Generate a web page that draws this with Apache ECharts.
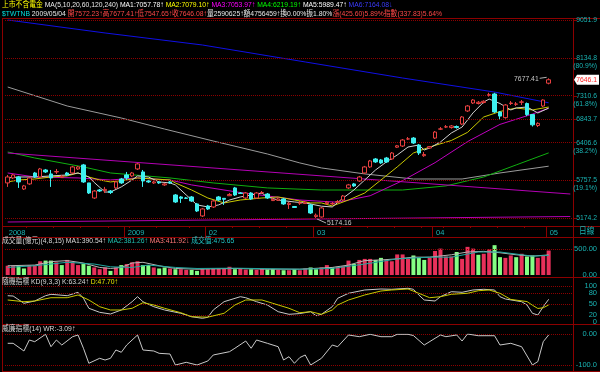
<!DOCTYPE html>
<html>
<head>
<meta charset="utf-8">
<script src="https://cdn.jsdelivr.net/npm/echarts@6/dist/echarts.min.js"></script>
<style>
html,body{margin:0;padding:0;background:#000;}
#chart{width:600px;height:372px;}
</style>
</head>
<body>
<div id="chart"></div>
<script>
// ---------- data ----------
const dates = [
'2008/12/02','2008/12/03','2008/12/04','2008/12/05','2008/12/08','2008/12/09','2008/12/10','2008/12/11','2008/12/12','2008/12/15',
'2008/12/16','2008/12/17','2008/12/18','2008/12/19','2008/12/22','2008/12/23','2008/12/24','2008/12/25','2008/12/26','2008/12/29',
'2008/12/30','2008/12/31','2009/01/02','2009/01/05','2009/01/06','2009/01/07','2009/01/08','2009/01/09','2009/01/12','2009/01/13',
'2009/01/14','2009/01/15','2009/01/16','2009/01/17','2009/01/19','2009/01/20','2009/01/21','2009/02/02','2009/02/03','2009/02/04',
'2009/02/05','2009/02/06','2009/02/09','2009/02/10','2009/02/11','2009/02/12','2009/02/13','2009/02/16','2009/02/17','2009/02/18',
'2009/02/19','2009/02/20','2009/02/23','2009/02/24','2009/02/25','2009/02/26','2009/02/27','2009/03/02','2009/03/03','2009/03/04',
'2009/03/05','2009/03/06','2009/03/09','2009/03/10','2009/03/11','2009/03/12','2009/03/13','2009/03/16','2009/03/17','2009/03/18',
'2009/03/19','2009/03/20','2009/03/23','2009/03/24','2009/03/25','2009/03/26','2009/03/27','2009/03/30','2009/03/31','2009/04/01',
'2009/04/02','2009/04/06','2009/04/07','2009/04/08','2009/04/09','2009/04/10','2009/04/13','2009/04/14','2009/04/15','2009/04/16',
'2009/04/17','2009/04/20','2009/04/21','2009/04/22','2009/04/23','2009/04/24','2009/04/27','2009/04/28','2009/04/29','2009/04/30',
'2009/05/04'];

const openP = [5713,5794,5810,5616,5697,5876,5810,5926,5860,5893,5800,5876,5876,5943,6011,5713,5475,5600,5590,5584,
5633,5777,5843,5827,5943,5893,5745,5713,5729,5681,5729,5522,5491,5475,5491,5384,5204,5353,5338,5491,
5470,5510,5633,5553,5475,5553,5475,5553,5537,5435,5440,5460,5375,5345,5395,5390,5369,5195,5189,5390,
5384,5410,5444,5633,5697,5745,5876,5977,6113,6096,6130,6113,6320,6341,6467,6485,6359,6170,6305,6485,
6650,6690,6680,6700,6747,7001,7160,7150,7170,7320,7345,6981,6870,7150,7135,7175,7150,6930,6720,7100,
7572.23];
const highP = [5843,5860,5827,5681,5810,5893,5960,5943,5926,5943,5843,5893,5994,5994,6028,5713,5600,5616,5649,5600,
5745,5794,5893,5893,6045,5926,5761,5745,5745,5713,5745,5537,5506,5491,5506,5399,5323,5369,5444,5506,
5475,5553,5649,5568,5568,5568,5568,5584,5553,5475,5475,5475,5414,5353,5429,5429,5384,5240,5338,5429,
5414,5444,5522,5697,5713,5827,5994,6096,6130,6113,6148,6235,6360,6467,6504,6504,6377,6235,6341,6615,
6690,6728,6728,6720,6902,7120,7240,7200,7215,7370,7370,7000,7140,7200,7180,7221,7170,6940,6780,7235,
7677.41];
const lowP = [5649,5777,5633,5600,5681,5794,5794,5876,5649,5860,5794,5827,5860,5926,5713,5537,5460,5568,5553,5537,
5616,5697,5761,5810,5926,5649,5713,5697,5697,5665,5697,5399,5399,5460,5414,5263,5189,5293,5323,5429,
5369,5506,5506,5537,5460,5444,5460,5537,5460,5429,5429,5369,5308,5323,5369,5384,5233,5174.16,5180,5369,
5369,5399,5429,5616,5649,5729,5860,5960,6045,6028,6045,6096,6305,6323,6449,6377,6182,6150,6288,6467,
6634,6671,6660,6660,6728,6981,7140,7130,7150,7290,6960,6840,6850,7120,7100,7120,6900,6700,6690,7080,
7547.65];
const closeP = [5810,5843,5729,5665,5794,5810,5943,5893,5794,5900,5820,5843,5977,5977,5729,5553,5584,5584,5610,5560,
5729,5713,5794,5876,6028,5745,5729,5729,5713,5697,5713,5414,5470,5470,5429,5278,5308,5308,5429,5444,
5455,5530,5522,5545,5553,5460,5553,5560,5475,5455,5460,5384,5395,5330,5400,5410,5248,5215,5323,5410,
5390,5420,5506,5681,5665,5810,5977,6079,6062,6045,6062,6217,6345,6449,6470,6395,6217,6190,6330,6596,
6655,6695,6710,6680,6883,7100,7221,7175,7195,7330,6981,6900,7120,7160,7140,7182,6930,6732,6760,7220.48,
7646.08];
const volume = [180,180,180,127,193,193,267,280,280,247,193,293,247,193,213,180,147,113,147,80,
147,193,213,247,267,193,193,147,127,147,127,113,113,100,100,80,113,113,127,127,
127,160,113,120,105,110,100,115,108,112,100,93,93,113,93,
127,147,113,147,193,147,160,173,280,213,293,313,313,293,333,293,267,400,400,313,
380,333,293,333,467,513,360,360,447,313,547,513,393,413,500,580,347,333,380,347,
413,360,380,333,380,475.65];

// moving-average lines: [bar index, value]
const ma5Pts = [[0,5794],[2,5810],[5,5810],[8,5827],[11,5843],[13,5876],[15,5810],[16,5720],[18,5568],[19,5568],[21,5649],[23,5761],[24,5827],[26,5810],[28,5729],[30,5713],[31,5681],[33,5522],[35,5369],[37,5338],[39,5369],[41,5444],[43,5491],[45,5522],[47,5553],[48,5491],[50,5444],[53,5414],[55,5399],[58,5350],[60,5338],[62,5475],[64,5600],[66,5761],[68,5926],[70,6062],[72,6182],[74,6323],[76,6359],[77,6270],[78,6305],[80,6413],[82,6578],[84,6690],[86,6961],[88,7180],[89,7240],[91,7150],[93,7021],[94,7060],[96,7080],[97,7021],[98,6961],[100,7057.78]];
const ma10Pts = [[0,5729],[2,5761],[5,5777],[8,5810],[11,5827],[13,5876],[15,5810],[17,5761],[19,5729],[22,5761],[24,5794],[27,5777],[30,5761],[31,5713],[34,5600],[37,5475],[40,5399],[43,5444],[47,5475],[50,5491],[53,5444],[56,5399],[58,5399],[60,5353],[63,5444],[66,5553],[69,5761],[72,5977],[75,6217],[78,6323],[82,6440],[85,6590],[88,6883],[91,6990],[94,7060],[97,7021],[100,7079.10]];
const ma20Pts = [[0,5876],[5,5810],[13,5794],[19,5761],[24,5794],[30,5761],[34,5681],[43,5560],[54,5444],[61,5410],[67,5510],[73,5750],[79,6050],[85,6420],[91,6740],[97,6940],[100,7053.97]];
const ma60Pts = [[0,6235],[5,6130],[14,5977],[19,5876],[30,5794],[38,5713],[48,5633],[58,5600],[73,5600],[81,5665],[88,5810],[94,6011],[100,6219.19]];
const ma120Pts = [[0,7491],[11,7100],[21,6863],[29,6652],[38,6431],[48,6200],[54,6045],[58,5960],[66,5860],[75,5777],[84,5777],[91,5876],[100,5989.47]];
const ma240Pts = [[0,9051.9],[18,8726],[36,8435],[55,8040],[73,7684],[90,7385],[100,7164.08]];
// two drawn trend lines (start bar, end slot)
const trendUpper = [[0,6217],[104,5537]];
const trendLower = [[0,5116],[104,5196]];

const volMa4Pts = [[0,180],[5,193],[8,260],[11,280],[14,233],[17,147],[19,127],[21,147],[23,233],[25,247],[28,180],[31,127],[35,113],[42,127],[48,113],[54,113],[60,147],[63,193],[66,280],[69,293],[72,313],[75,347],[78,347],[82,393],[85,447],[88,460],[91,433],[94,393],[97,367],[100,390.54]];
const volMa8Pts = [[0,147],[5,180],[11,247],[16,213],[19,160],[23,147],[26,193],[31,147],[35,127],[42,133],[54,113],[60,127],[66,213],[72,313],[78,347],[82,347],[87,447],[91,447],[97,367],[100,381.26]];

const kPts = [[0,73.2],[1,72.4],[3,52.3],[5,58.6],[7,73.2],[8,77.1],[11,73.2],[13,82.6],[14,66.1],[15,38.5],[17,27.4],[19,22.8],[21,33.8],[23,56.7],[24,70.5],[25,56.7],[27,42.9],[29,33.8],[32,24.7],[34,15.3],[36,10.9],[37,13.7],[38,33.8],[40,56.7],[43,70.5],[44,67.7],[46,56.7],[48,47.6],[50,29.1],[52,21.9],[54,24],[56,29.1],[57,18.1],[58,21.9],[60,42.9],[61,66.1],[63,79.9],[66,89.0],[69,91.7],[71,90.9],[74,93.7],[75,90.9],[76,75.2],[77,61.4],[79,58.6],[80,70.5],[82,84.3],[84,82.6],[86,89.0],[88,90.9],[90,89.0],[91,70.5],[92,64.1],[95,56.7],[96,47.6],[97,24.7],[98,20.0],[99,42.9],[100,63.24]];
const dPts = [[0,61.4],[3,56.7],[5,58.6],[8,67.7],[11,67.7],[13,75.2],[15,61.4],[17,42.9],[19,33.8],[21,33.8],[23,38.5],[25,53.9],[27,47.6],[29,38.5],[32,26.3],[34,15.3],[37,14],[40,24.7],[42,47.6],[44,61.4],[47,61.4],[49,52.3],[52,38.5],[54,26.3],[56,29.1],[58,21.9],[60,33.8],[61,47.6],[63,61.4],[66,75.2],[69,86.2],[71,89],[74,91.7],[76,79.9],[78,67.7],[80,70.5],[82,77.1],[85,79.9],[87,87],[89,89],[91,79.9],[93,63],[96,57],[97,47],[98,38],[99,40],[100,47.70]];
const wrPts = [[0,-30],[1,-30],[3,-54.8],[4,-19.4],[5,-24.8],[7,-1],[8,-41],[9,-19.4],[10,-35.5],[12,-8.7],[13,-3.2],[14,-46],[15,-94.5],[17,-78.4],[18,-83.9],[19,-78.4],[20,-51.6],[21,-59],[22,-35.5],[24,-3.2],[25,-51.6],[27,-54.8],[28,-62.3],[30,-64.5],[31,-100],[33,-91.3],[35,-100],[37,-87],[38,-67.7],[41,-57.1],[42,-46],[44,-22.6],[45,-46],[46,-19.4],[48,-30],[50,-41],[51,-83.9],[52,-73.2],[53,-94.5],[54,-76],[55,-67.7],[56,-100],[58,-78.4],[60,-35.5],[61,-41],[63,-3.2],[65,-8.7],[67,-1],[69,-8.7],[71,-8.7],[72,-1],[74,-1],[75,-5],[77,-35.5],[79,-13.9],[80,-3.2],[81,-8.7],[83,-3.2],[84,-22.6],[85,0],[87,-5.5],[90,-5.5],[91,-35.5],[93,-30],[95,-41],[97,-100],[98,-89],[99,-24.8],[100,-3.09]];

// axis / label texts
const priceLevels = [9051.9, 8134.8, 7310.6, 6843.7, 6406.6, 5757.5, 5174.2];
const levelPct = ['', '(80.9%)', '(61.8%)', '', '(38.2%)', '(19.1%)', ''];
const monthLabels = [[0,'2008'],[22,'2009'],[37,'02'],[57,'03'],[79,'04'],[100,'05']];
const kdLabels = [100, 80, 50, 20, 0];
const maLast = ['7057.78','7079.10','7053.97','6219.19','5989.47','7164.08'];
const maArrow = ['↑','↑','↑','↑','↑','↓'];
const quoteTexts = ['開7572.23↑','高7677.41↑','低7547.65↑','收7646.08↑'];
const extraTexts = ['量2590625↑','額4756459↑','換0.00%','振1.80%'];
const changeTexts = ['漲(425.60)5.89%','指數(337.83)5.64%'];
const volTitle = ['成交量(億元)(4,8,15)','MA1:390.54↑','MA2:381.26↑','MA3:411.92↓','成交值:475.65'];
const kdTitle = ['隨機指標 KD(9,3,3) K:63.24↑','D:47.70↑'];
const wrTitle = '威廉指標(14) WR:-3.09↑';

// ---------- styling ----------
const FF = "'Liberation Sans','Noto Sans CJK TC',sans-serif";
const BORDER = '#8c0000';
const GRIDC = '#8c0000';
const AXC = '#19b4b4';
const UP = '#e84040', DOWN = '#3ef0f0';
const VUP = '#e8305a', VDN = '#84ff84';
const NSLOT = dates.length + 3; // empty room on the right of the last bar
const SX = 0.85;                 // narrow bitmap-like text
const AXFS = 7.5;

const monthIdx = monthLabels.map(m => m[0]);
const monthMap = {}; monthLabels.forEach(m => monthMap[m[0]] = m[1]);
function weekKey(s){ const d = new Date(s.replace(/\//g,'-') + 'T00:00:00Z'); const wd = (d.getUTCDay()+6)%7; return d.getTime() - wd*86400000; }
const weekStart = dates.map((d,i) => i > 0 && weekKey(d) !== weekKey(dates[i-1]));

const candleData = openP.map((o,i) => [o, closeP[i], lowP[i], highP[i]]);
const volData = volume.map((v,i) => {
  const up = i === 0 ? closeP[0] >= openP[0] : closeP[i] >= closeP[i-1];
  return {value: v, itemStyle: {color: up ? VUP : VDN}};
});

const gL = 5, gR = 27;
const grids = [
  {left:gL, right:gR, top:19, height:207},
  {left:gL, right:gR, top:237, height:38},
  {left:gL, right:gR, top:286, height:36.25},
  {left:gL, right:gR, top:334, height:31}
];
function hiddenX(gi){ return {type:'category', gridIndex:gi, data:dates, max:NSLOT, boundaryGap:true, show:false}; }

function lineS(data, color, xi, yi, z){
  return {type:'line', data, xAxisIndex:xi, yAxisIndex:yi, showSymbol:false, symbol:'none', silent:true,
    lineStyle:{color, width:1}, z: z || 3, animation:false};
}
const axLab = {color:AXC, fontSize:AXFS, fontFamily:FF, align:'right', margin:24};

const option = {
  backgroundColor:'#000',
  animation:false,
  grid: grids,
  xAxis: [
    {type:'category', gridIndex:0, data:dates, max:NSLOT, boundaryGap:true,
      axisLine:{show:false},
      axisTick:{show:true, length:11, interval:(i)=>monthIdx.indexOf(i) > 0, lineStyle:{color:BORDER, width:1}},
      axisLabel:{show:true, interval:(i)=>monthIdx.indexOf(i) >= 0, formatter:(v,i)=>monthMap[i]||'',
        align:'left', margin:3, color:AXC, fontSize:AXFS, fontFamily:FF, padding:[0,0,0,1]},
      splitLine:{show:false}},
    {type:'category', gridIndex:0, data:dates, max:NSLOT, boundaryGap:true, position:'bottom',
      axisLine:{show:false}, axisLabel:{show:false}, splitLine:{show:false},
      axisTick:{show:true, inside:false, length:2, interval:(i)=>!!weekStart[i], lineStyle:{color:BORDER}}},
    hiddenX(1), hiddenX(2), hiddenX(3)
  ],
  yAxis: [
    {type:'log', logBase:10, gridIndex:0, min:5058.6, max:9077.5, show:false},
    {type:'value', gridIndex:1, min:0, max:739, interval:500, position:'right',
      axisLine:{show:false}, splitLine:{show:false}, axisTick:{show:false},
      axisLabel:Object.assign({showMaxLabel:false, formatter:(v)=> (v===0||v===500) ? v.toFixed(2) : ''}, axLab)},
    {type:'value', gridIndex:2, min:0, max:100, interval:10, position:'right',
      axisLine:{show:false}, splitLine:{show:false}, axisTick:{show:false},
      axisLabel:Object.assign({formatter:(v)=> kdLabels.indexOf(v)>=0 ? String(v) : ''}, axLab)},
    {type:'value', gridIndex:3, min:-100, max:0, interval:100, position:'right',
      axisLine:{show:false}, axisTick:{show:false},
      splitLine:{show:true, lineStyle:{color:GRIDC, type:'dotted', width:1}},
      axisLabel:Object.assign({formatter:(v)=> v===0 ? '0.00' : v.toFixed(1)}, axLab)}
  ],
  series: [
    {type:'candlestick', xAxisIndex:0, yAxisIndex:0, data:candleData, barWidth:4, z:5, silent:true,
      itemStyle:{color:'#000', color0:DOWN, borderColor:UP, borderColor0:DOWN, borderWidth:1},
      markLine:{silent:true, symbol:['none','none'], label:{show:false}, animation:false,
        lineStyle:{color:GRIDC, type:'dotted', width:1},
        data: priceLevels.map(v => ({yAxis:v}))}},
    lineS(ma240Pts, '#1010e6', 0, 0),
    lineS(ma120Pts, '#9a9a9a', 0, 0),
    lineS(ma60Pts, '#10b010', 0, 0),
    lineS(trendUpper, '#b400b4', 0, 0),
    lineS(trendLower, '#b400b4', 0, 0),
    lineS(ma20Pts, '#c000c0', 0, 0),
    lineS(ma10Pts, '#c8c800', 0, 0),
    lineS(ma5Pts, '#d0d0d0', 0, 0),
    {type:'bar', xAxisIndex:2, yAxisIndex:1, data:volData, barWidth:4, silent:true,
      markLine:{silent:true, symbol:['none','none'], label:{show:false}, animation:false,
        lineStyle:{color:GRIDC, type:'dotted', width:1}, data:[{yAxis:500}]}},
    lineS(volMa4Pts, '#b4b4b4', 2, 1, 6),
    lineS(volMa8Pts, '#20a8a0', 2, 1, 6),
    Object.assign(lineS(kPts, '#c8c8c8', 3, 2, 4), {
      markLine:{silent:true, symbol:['none','none'], label:{show:false}, animation:false,
        lineStyle:{color:GRIDC, type:'dotted', width:1}, data:[{yAxis:100},{yAxis:80},{yAxis:50},{yAxis:20}]}}),
    lineS(dPts, '#c8c800', 3, 2, 5),
    lineS(wrPts, '#c8c8c8', 4, 3, 4)
  ]
};

const chart = echarts.init(document.getElementById('chart'), null, {renderer:'canvas'});
chart.setOption(option);

// ---------- overlay texts & frame ----------
const px = i => chart.convertToPixel({xAxisIndex:0}, i);
const py = v => chart.convertToPixel({yAxisIndex:0}, v);
const F8 = '8px ' + FF;
const g = [];
function T(x, y, text, fill, style){
  g.push({type:'text', x, y, scaleX:SX, silent:true, z:100,
    style:Object.assign({text, fill, font:F8, align:'left', verticalAlign:'middle'}, style||{})});
}
function R(x, y, text, rich){
  g.push({type:'text', x, y, scaleX:SX, silent:true, z:100, style:{text, font:F8, fill:'#ddd', verticalAlign:'middle', rich}});
}
function L(x1,y1,x2,y2,stroke,w){ g.push({type:'line', silent:true, z:90, shape:{x1,y1,x2,y2}, style:{stroke, lineWidth:w||1}}); }

// header line 1
const maCol = ['#ffffff','#ffff00','#ff00ff','#00ff00','#ffffff','#3c3cff'];
let h1 = '{y|上市不含電金} {w|MA(5,10,20,60,120,240)}';
maLast.forEach((v,i) => { h1 += ' {c'+i+'|MA'+(i+1)+':'+v+maArrow[i]+'}'; });
const rich1 = {y:{fill:'#ffff00'}, w:{fill:'#e8e8e8'}};
maCol.forEach((c,i) => rich1['c'+i] = {fill:c});
R(2, 5, h1, rich1);
// header line 2
let h2 = '{c|$TWTNB} {w|'+dates[dates.length-1]+'} ';
quoteTexts.forEach(t => h2 += '{r|'+t+'}');
extraTexts.forEach(t => h2 += '{w|'+t+'}');
changeTexts.forEach(t => h2 += '{r|'+t+'}');
R(2, 14, h2, {c:{fill:'#00e0e0'}, w:{fill:'#e8e8e8'}, r:{fill:'#ff4848'}});
// volume title
R(2, 241, '{a|'+volTitle[0]+'} {a|'+volTitle[1]+'} {b|'+volTitle[2]+'} {c|'+volTitle[3]+'} {d|'+volTitle[4]+'}',
  {a:{fill:'#d8d8d8'}, b:{fill:'#20c0b0'}, c:{fill:'#ff7878'}, d:{fill:'#20c8c8'}});
// KD title
R(2, 282, '{a|'+kdTitle[0]+'} {b|'+kdTitle[1]+'}', {a:{fill:'#d8d8d8'}, b:{fill:'#e8e800'}});
// WR title
T(2, 329, wrTitle, '#d8d8d8');
// 日線
T(579, 232, '日線', AXC, {font:'9px '+FF});

// price level labels on the right
priceLevels.forEach((v,i) => {
  const y = py(v);
  T(597, y, v.toFixed(1), AXC, {align:'right'});
  L(573, Math.round(y)+0.5, 577, Math.round(y)+0.5, BORDER);
  if (levelPct[i]) T(597, y+8, levelPct[i], AXC, {align:'right'});
});
// current price box
const last = dates.length - 1;
const yc = py(closeP[last]);
g.push({type:'polygon', silent:true, z:95, shape:{points:[[574,yc],[577,yc-5],[599,yc-5],[599,yc+5],[577,yc+5]]}, style:{fill:'#ffffff'}});
T(597, yc, closeP[last].toFixed(1), '#ff2020', {align:'right'});
// high marker
const hx = px(last), hy = py(highP[last]);
L(hx-9, hy, hx-2, hy-1, '#b0b0b0');
T(hx-10, hy, highP[last].toFixed(2), '#c8c8c8', {align:'right'});
// low marker
let lowIdx = 0; lowP.forEach((v,i) => { if (v < lowP[lowIdx]) lowIdx = i; });
const lx = px(lowIdx), ly = py(lowP[lowIdx]);
L(lx+1, ly+1, lx+10, ly+5, '#b0b0b0');
T(lx+11, ly+5, lowP[lowIdx].toFixed(2), '#c8c8c8');

// frame
[18.5, 226.5, 237.5, 277.5, 324.5, 371.5].forEach(y => L(2, y, 600, y, BORDER));
L(2.5, 18, 2.5, 372, BORDER);
L(573.5, 18, 573.5, 372, BORDER);

chart.setOption({graphic: g});
</script>
</body>
</html>
